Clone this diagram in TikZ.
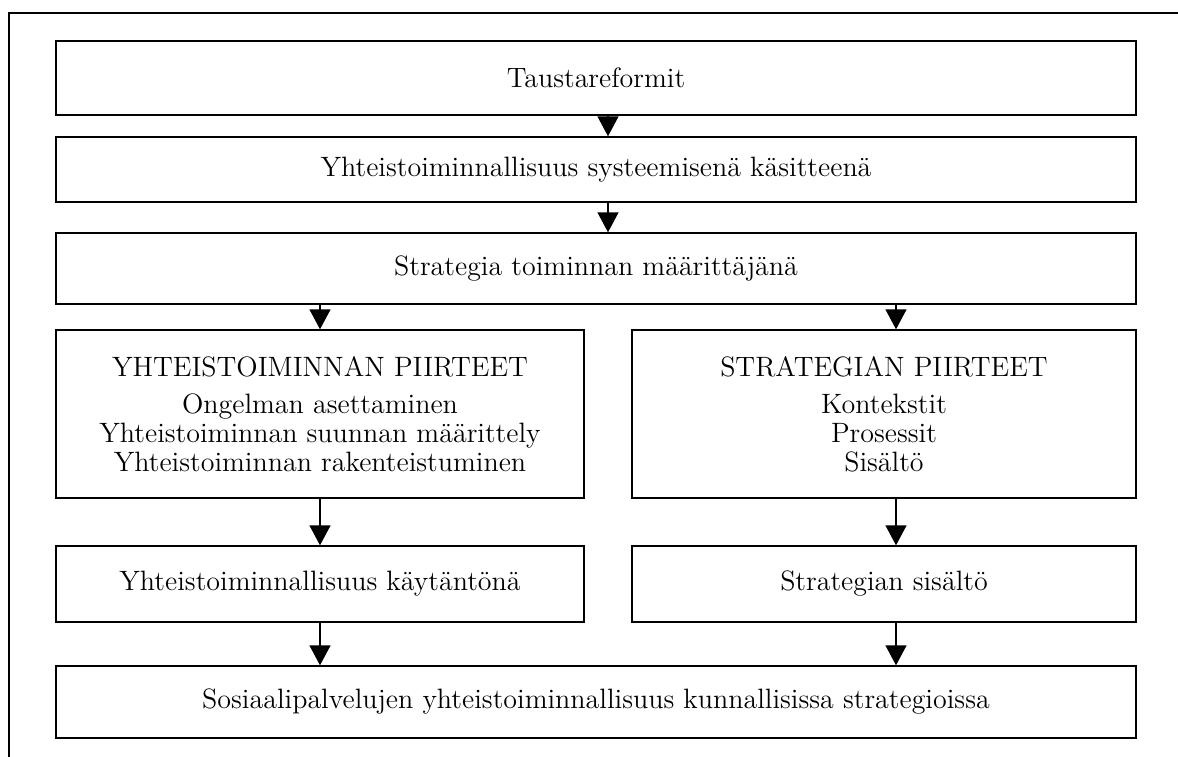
\documentclass[tikz,border=0pt]{standalone}
\usepackage{tikz}
\usetikzlibrary{arrows.meta,positioning}
\tikzset{x=0.5pt,y=-0.5pt,
  >={Triangle[width=10.5pt,length=10pt]},
  box/.style={draw,line width=0.7pt,rectangle,inner sep=0pt,align=center,
    font=\fontsize{14}{14.5}\selectfont},
  link/.style={->,line width=0.7pt}}

\begin{document}
\begin{tikzpicture}
              \useasboundingbox (0,0) rectangle (1178,756);
              \clip (0,0) rectangle (1178,756);
              \draw[line width=1pt] (9,13) rectangle (1200,780);

              \node[box,minimum width=540pt,minimum height=37pt] (tausta) at (596,78) {Taustareformit};
              \node[box,minimum width=540pt,minimum height=32.5pt] (systeemi) at (596,169.5) {Yhteistoiminnallisuus systeemisenä käsitteenä};
              \node[box,minimum width=540pt,minimum height=35.5pt] (strat) at (596,268.5) {Strategia toiminnan määrittäjänä};
              \node[box,minimum width=264pt,minimum height=84pt] (ypiirt) at (320,414)
                {YHTEISTOIMINNAN PIIRTEET\\[4pt]Ongelman asettaminen\\Yhteistoiminnan suunnan määrittely\\Yhteistoiminnan rakenteistuminen};
              \node[box,minimum width=252pt,minimum height=84pt] (spiirt) at (884,414)
                {STRATEGIAN PIIRTEET\\[4pt]Kontekstit\\Prosessit\\Sisältö};
              \node[box,minimum width=264pt,minimum height=38pt] (kaytanto) at (320,584) {Yhteistoiminnallisuus käytäntönä};
              \node[box,minimum width=252pt,minimum height=38pt] (ssisalto) at (884,584) {Strategian sisältö};
              \node[box,minimum width=540pt,minimum height=36pt] (sosiaali) at (596,702) {Sosiaalipalvelujen yhteistoiminnallisuus kunnallisissa strategioissa};

              \path[link]
              ([xshift=6pt]tausta.south) edge ([xshift=6pt]systeemi.north)
              ([xshift=6pt]systeemi.south) edge ([xshift=6pt]strat.north)
              (strat.south -| ypiirt.north) edge (ypiirt.north)
              ([xshift=6pt]strat.south -| spiirt.north) edge ([xshift=6pt]spiirt.north)
              (ypiirt.south) edge (kaytanto.north)
              ([xshift=6pt]spiirt.south) edge ([xshift=6pt]ssisalto.north)
              (kaytanto.south) edge (kaytanto.south |- sosiaali.north)
              ([xshift=6pt]ssisalto.south) edge ([xshift=6pt]ssisalto.south |- sosiaali.north)
              ;
            \end{tikzpicture}
\end{document}
